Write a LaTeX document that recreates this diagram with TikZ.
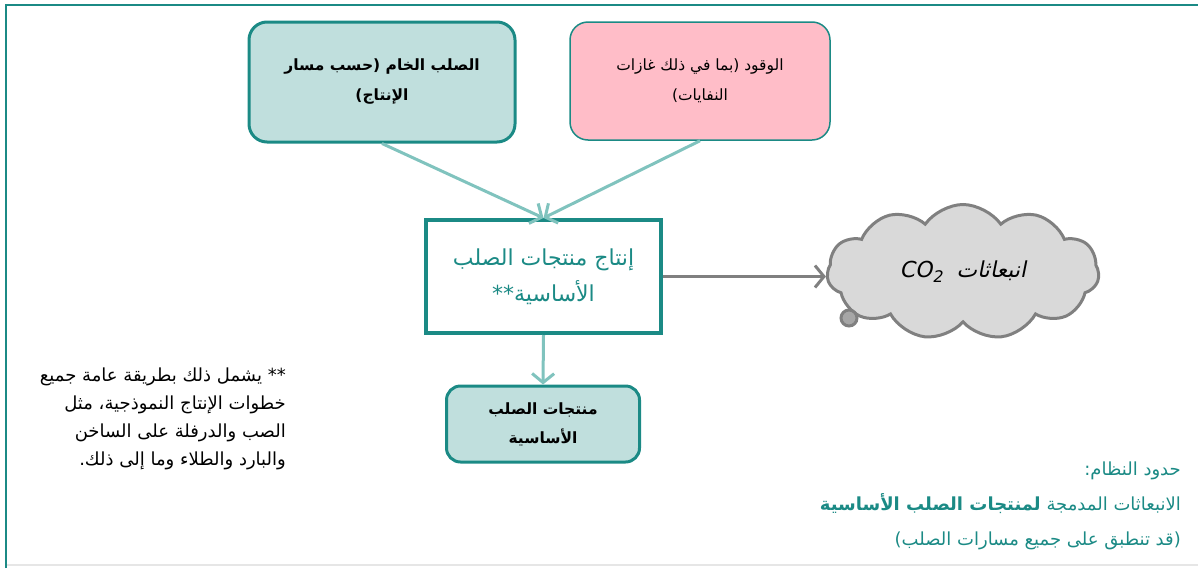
\documentclass[tikz,border=0pt]{standalone}
\usepackage{fontspec}
\usetikzlibrary{arrows.meta,shapes.symbols}
\TeXXeTstate=1
\newfontfamily\arabicfont[Script=Arabic]{DejaVu Sans}
\newfontfamily\arabicslant[Script=Arabic,FakeSlant=0.2]{DejaVu Sans}
\definecolor{teal1}{HTML}{1B8A85}
\definecolor{tealfill}{HTML}{C0DFDD}
\definecolor{tealarrow}{HTML}{80C3BE}
\definecolor{pinkfill}{HTML}{FFBDC8}
\definecolor{gray1}{HTML}{808080}
\definecolor{cloudfill}{HTML}{D9D9D9}
\definecolor{lightline}{HTML}{E6E6E6}
\tikzset{
  inbox/.style={draw=teal1, rounded corners=18pt, align=center, inner sep=2pt},
  tealarr/.style={draw=tealarrow, line width=3pt, -{Straight Barb[length=9pt,width=22pt]}},
  grayarr/.style={draw=gray1, line width=3pt, -{Straight Barb[length=9pt,width=22pt]}},
}
\begin{document}
\begin{tikzpicture}[x=1pt,y=-1pt]
\useasboundingbox (0,0) rectangle (1198,568);
% frame
\draw[lightline, line width=1.5pt] (6,565) -- (1198,565);
\draw[teal1, line width=2.5pt] (6,568) -- (6,5) -- (1198,5);
% boxes
\node[inbox, fill=tealfill, line width=3pt, minimum width=266pt, minimum height=120pt,
  font=\arabicfont\bfseries\fontsize{15.5}{30}\selectfont] (raw) at (382,82)
  {\beginR الصلب الخام (حسب مسار\endR\\\beginR الإنتاج)\endR};
\node[inbox, fill=pinkfill, line width=1.5pt, minimum width=260pt, minimum height=118pt,
  font=\arabicfont\fontsize{15.5}{30}\selectfont] (fuel) at (700,81)
  {\beginR الوقود (بما في ذلك غازات\endR\\\beginR النفايات)\endR};
\node[draw=teal1, fill=white, line width=4pt, minimum width=235pt, minimum height=113pt, align=center, text=teal1,
  font=\arabicfont\fontsize{22}{36}\selectfont] (prod) at (543.5,276.5)
  {\beginR إنتاج منتجات الصلب\endR\\\beginR الأساسية**\endR};
\node[inbox, fill=tealfill, line width=3pt, rounded corners=14pt, minimum width=193pt, minimum height=76pt,
  font=\arabicfont\bfseries\fontsize{15.5}{29}\selectfont] (out) at (543,424)
  {\beginR منتجات الصلب\endR\\\beginR الأساسية\endR};
% cloud
\node[cloud, cloud puffs=11, cloud puff arc=110, aspect=2.1, draw=gray1, fill=cloudfill, line width=3pt,
  minimum width=272pt, minimum height=135pt, inner sep=0pt,
  font=\arabicslant\fontsize{22}{22}\selectfont] (cloud) at (963,272)
  {\beginR انبعاثات\ \ \beginL CO\raisebox{-5pt}{\fontsize{16}{16}\selectfont 2}\endL\endR};
\node[circle, draw=gray1, fill=gray1!70, line width=3pt, minimum size=16pt, inner sep=0pt] (bubble) at (849,318) {};
% connectors
\draw[tealarr] (raw.south) -- (prod.north);
\draw[tealarr] (fuel.south) -- (prod.north);
\draw[tealarr] (prod.south) -- (out.north);
\draw[grayarr] (prod.east) -- (prod.east -| cloud.west);
% footnote
\node[anchor=north east, align=right, inner sep=0pt,
  font=\arabicfont\fontsize{18}{28}\selectfont] (note) at (286,368)
  {\beginR ** يشمل ذلك بطريقة عامة جميع\endR\\
   \beginR خطوات الإنتاج النموذجية، مثل\endR\\
   \beginR الصب والدرفلة على الساخن\endR\\
   \beginR والبارد والطلاء وما إلى ذلك.\endR};
% system boundary
\node[anchor=north east, align=right, inner sep=0pt, text=teal1,
  font=\arabicfont\fontsize{18}{35}\selectfont] (sys) at (1181,462)
  {\beginR حدود النظام:\endR\\
   \beginR الانبعاثات المدمجة {\bfseries لمنتجات الصلب الأساسية}\endR\\
   \beginR (قد تنطبق على جميع مسارات الصلب)\endR};
\end{tikzpicture}
\end{document}
